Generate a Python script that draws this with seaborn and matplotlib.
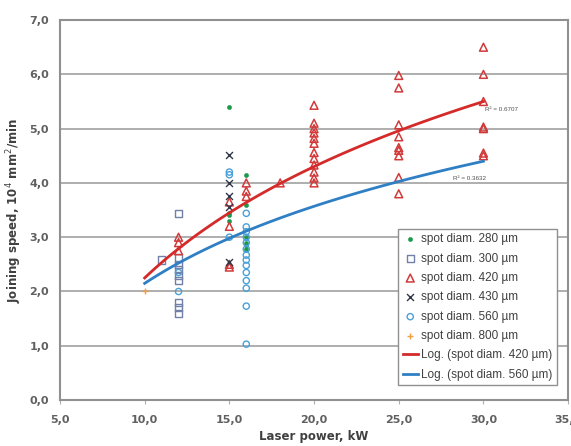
import numpy as np
import pandas as pd
import matplotlib
matplotlib.use('Agg')
import matplotlib.pyplot as plt
import seaborn as sns

# spot diameter 280 um
x280 = [15, 15, 15, 15, 16, 16, 16, 16, 16, 16]
y280 = [5.4, 3.4, 3.3, 3.45, 4.14, 3.6, 3.0, 2.9, 2.85, 2.78]
# 300 um
x300 = [11, 12, 12, 12, 12, 12, 12, 12, 12, 12]
y300 = [2.58, 3.44, 2.62, 2.5, 2.4, 2.3, 2.2, 1.8, 1.7, 1.6]
# 420 um
x420 = [12, 12, 12, 15, 15, 15, 15, 16, 16, 16, 18,
        20, 20, 20, 20, 20, 20, 20, 20, 20, 20, 20, 20,
        25, 25, 25, 25, 25, 25, 25, 25, 25,
        30, 30, 30, 30, 30, 30, 30]
y420 = [3.0, 2.9, 2.75, 3.65, 3.2, 2.5, 2.45, 4.0, 3.85, 3.75, 4.0,
        5.43, 5.1, 5.0, 4.92, 4.82, 4.73, 4.56, 4.45, 4.33, 4.2, 4.09, 4.0,
        5.98, 5.75, 5.07, 4.85, 4.65, 4.6, 4.5, 4.1, 3.8,
        6.5, 6.0, 5.5, 5.03, 5.0, 4.55, 4.5]
# 430 um
x430 = [15, 15, 15, 15, 15]
y430 = [4.51, 4.0, 3.75, 3.55, 2.55]
# 560 um
x560 = [12, 12, 15, 15, 15, 16, 16, 16, 16, 16, 16, 16, 16, 16, 16, 16, 16, 16, 16]
y560 = [2.0, 2.35, 4.2, 4.15, 3.0, 3.44, 3.19, 3.1, 3.0, 2.9, 2.78, 2.67, 2.58,
        2.48, 2.35, 2.2, 2.06, 1.73, 1.03]
# 800 um
x800 = [10]
y800 = [2.0]

# logarithmic trendlines y = a*ln(x) + b
trend_range = [10, 30]
log420 = (2.958, -4.561)
log560 = (2.048, -2.566)
r2_420 = 'R² = 0.6707'
r2_560 = 'R² = 0.3632'

fig = plt.figure(figsize=(5.71, 4.46), dpi=100)
ax = fig.add_axes([0.105, 0.103, 0.89, 0.852])
plt.rcParams['font.family'] = ['Liberation Sans', 'DejaVu Sans']

sns.scatterplot(x=x280, y=y280, marker='o', s=10, color='#1a9a4a', edgecolor='#1a9a4a',
                label='spot diam. 280 µm', ax=ax, zorder=3)
sns.scatterplot(x=x300, y=y300, marker='s', s=28, facecolor='none', edgecolor='#7080a8',
                linewidth=1, label='spot diam. 300 µm', ax=ax, zorder=3)
sns.scatterplot(x=x420, y=y420, marker='^', s=32, facecolor='none', edgecolor='#d23a3a',
                linewidth=1.1, label='spot diam. 420 µm', ax=ax, zorder=3)
sns.scatterplot(x=x430, y=y430, marker='x', s=25, color='#303848', linewidth=1,
                label='spot diam. 430 µm', ax=ax, zorder=3)
sns.scatterplot(x=x560, y=y560, marker='o', s=20, facecolor='none', edgecolor='#4aa0d8',
                linewidth=1, label='spot diam. 560 µm', ax=ax, zorder=3)
sns.scatterplot(x=x800, y=y800, marker='+', s=25, color='#f0a040', linewidth=1,
                label='spot diam. 800 µm', ax=ax, zorder=3)

xt = np.linspace(trend_range[0], trend_range[1], 100)
sns.lineplot(x=xt, y=log420[0] * np.log(xt) + log420[1], color='#d42a2a', linewidth=2,
             label='Log. (spot diam. 420 µm)', ax=ax, zorder=4)
sns.lineplot(x=xt, y=log560[0] * np.log(xt) + log560[1], color='#2f7fc4', linewidth=2,
             label='Log. (spot diam. 560 µm)', ax=ax, zorder=4)

ax.text(30.1, 5.33, r2_420, fontsize=4.5, color='#505050')
ax.text(28.2, 4.06, r2_560, fontsize=4.5, color='#505050')

ax.set_xlim(5, 35)
ax.set_ylim(0, 7)
ax.set_xticks(np.arange(5, 36, 5))
ax.set_yticks(np.arange(0, 7.1, 1))
ax.set_xticklabels([f'{v:.1f}'.replace('.', ',') for v in np.arange(5, 36, 5)])
ax.set_yticklabels([f'{v:.1f}'.replace('.', ',') for v in np.arange(0, 7.1, 1)])
ax.tick_params(axis='both', labelsize=8, labelcolor='#606060', colors='#b0b0b0')
ax.tick_params(axis='y', length=0, pad=8)
ax.tick_params(axis='x', length=3, direction='out', pad=8)
for lab in ax.get_xticklabels() + ax.get_yticklabels():
    lab.set_fontweight('bold')
ax.grid(axis='y', color='#a8a8a8', linewidth=1.3)
ax.set_axisbelow(True)
for sp in ax.spines.values():
    sp.set_color('#909090')
    sp.set_linewidth(1.5)

ax.set_xlabel('Laser power, kW', fontsize=8.5, fontweight='bold', color='#404040', labelpad=3)
ax.set_ylabel('Joining speed, 10$^4$ mm$^2$/min', fontsize=8.5, fontweight='bold',
              color='#404040', labelpad=4)

leg = ax.legend(loc='lower right', bbox_to_anchor=(0.978, 0.04), fontsize=8.5,
                frameon=True, fancybox=False, edgecolor='#909090', framealpha=1,
                handlelength=1.3, handletextpad=0.3, labelspacing=0.62, borderpad=0.35,
                borderaxespad=0)
for t in leg.get_texts():
    t.set_color('#404040')

fig.savefig('out.png', dpi=100)
